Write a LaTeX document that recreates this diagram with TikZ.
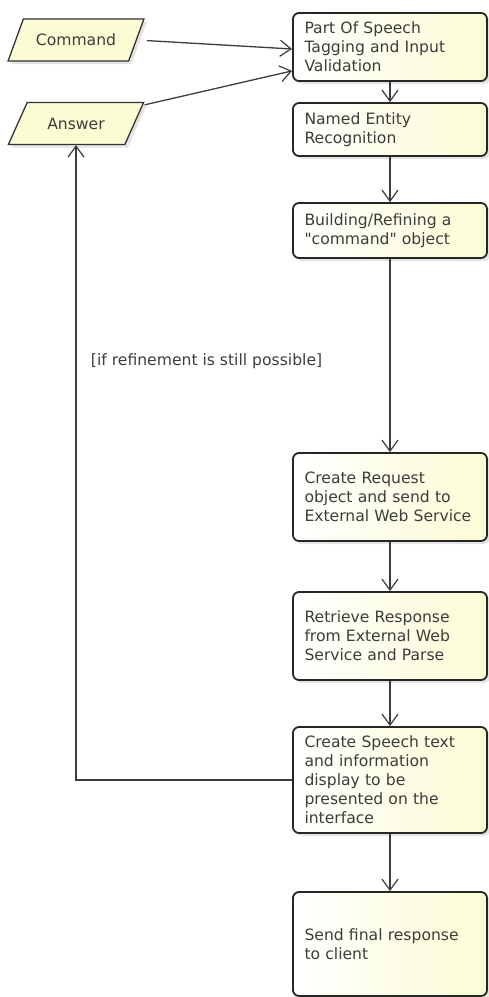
\documentclass[tikz,border=0pt]{standalone}
\usepackage{fontspec}
\setmainfont{DejaVu Sans}
\usetikzlibrary{arrows.meta,positioning,shapes.geometric,shadows}
\tikzset{>/.tip={Straight Barb[length=11pt,width=16pt,line width=1.2pt]}}
\definecolor{boxfill}{RGB}{252,252,212}
\definecolor{ink}{RGB}{60,60,60}
\tikzset{act/.style={draw=black!85,line width=1.8pt,rounded corners=6pt,
    left color=white,right color=boxfill,text=ink,
    drop shadow={fill=black!30,opacity=0.35,shadow xshift=3pt,shadow yshift=-3pt},
    minimum width=194pt,text width=171pt,align=left,inner sep=0pt}}
\tikzset{io/.style={draw=black!80,line width=1.3pt,trapezium,trapezium left angle=56,
    trapezium right angle=124,trapezium stretches=true,minimum width=136pt,
    minimum height=42pt,fill=boxfill,text=ink,
    drop shadow={fill=black!30,opacity=0.35,shadow xshift=3pt,shadow yshift=-3pt}}}
\tikzset{flow/.style={draw=ink,line width=1.3pt,->}}

\begin{document}
\begin{tikzpicture}[font=\fontsize{15.6}{19}\selectfont,on grid]
        \useasboundingbox (0,0) rectangle (489pt,-997pt);
        \node(pos)[act,minimum height=68pt] at (390pt,-47pt)
          {Part Of Speech\\Tagging and Input\\Validation};
        \node(ner)[act,minimum height=53pt,below=82.5pt of pos]{Named Entity\\Recognition};
        \node(cmdobj)[act,minimum height=55pt,below=101pt of ner]
          {Building/Refining a\\\textquotedbl command\textquotedbl\ object};
        \node(req)[act,minimum height=88pt,below=266.5pt of cmdobj]
          {Create Request\\object and send to\\\mbox{External Web Service}};
        \node(resp)[act,minimum height=88pt,below=139pt of req]
          {Retrieve Response\\from External Web\\Service and Parse};
        \node(spch)[act,minimum height=106pt,below=144pt of resp]
          {Create Speech text\\and information\\display to be\\presented on the\\interface};
        \node(send)[act,minimum height=104pt,below=164pt of spch]{Send final response\\to client};
        \node(cmd)[io,left=314pt of pos,yshift=7pt]{Command};
        \node(ans)[io,below=83.5pt of cmd]{Answer};
        \draw[flow,shorten <=10pt] (cmd.east) -- ([yshift=-2pt]pos.west);
        \draw[flow] ([yshift=-3pt]ans.top right corner) -- ([yshift=11pt]pos.south west);
        \draw[flow] (pos) -- (ner);
        \draw[flow] (ner) -- (cmdobj);
        \draw[flow] (cmdobj) -- (req);
        \draw[flow] (req) -- (resp);
        \draw[flow] (resp) -- (spch);
        \draw[flow] (spch) -- (send);
        \draw[flow] (spch.west) -| node[pos=0.83,right=11pt,text=ink]{[if refinement is still possible]} (ans.south);
      \end{tikzpicture}
\end{document}
